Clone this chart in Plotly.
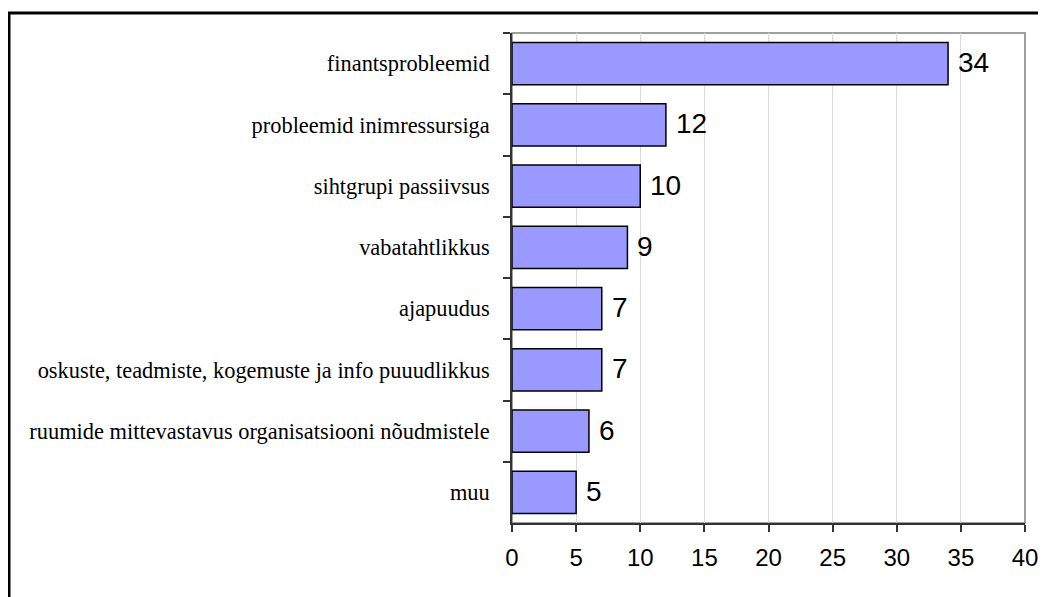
import plotly.graph_objects as go

# data
categories = [
    "finantsprobleemid",
    "probleemid inimressursiga",
    "sihtgrupi passiivsus",
    "vabatahtlikkus",
    "ajapuudus",
    "oskuste, teadmiste, kogemuste ja info puuudlikkus",
    "ruumide mittevastavus organisatsiooni nõudmistele",
    "muu",
]
values = [34, 12, 10, 9, 7, 7, 6, 5]
x_ticks = [0, 5, 10, 15, 20, 25, 30, 35, 40]

fig = go.Figure()

fig.add_trace(go.Bar(
    x=values, y=categories, orientation="h",
    marker=dict(color="#9999FF", line=dict(color="black", width=1.5)),
    hoverinfo="x+y", showlegend=False,
))

# value labels to the right of each bar
for cat, val in zip(categories, values):
    fig.add_annotation(
        x=val, y=cat, text=str(val), showarrow=False,
        xanchor="left", yanchor="middle", xshift=8, yshift=1,
        font=dict(family="Liberation Sans, Arial", size=28, color="black"),
    )

# plot area frame (grey top/right) and outer chart border
fig.add_shape(type="rect", xref="paper", yref="paper", x0=0, y0=0, x1=1, y1=1,
              line=dict(color="#808080", width=1.5), layer="below")
fig.add_shape(type="rect", xref="paper", yref="paper",
              x0=-0.9805, y0=-0.3, x1=1.2, y1=1.0408,
              line=dict(color="black", width=3))

# page body has an 8px margin, so the figure is offset by 8px in the window
fig.update_layout(
    width=1038, height=589,
    margin=dict(l=504, r=21, t=25, b=74),
    paper_bgcolor="white", plot_bgcolor="white",
    bargap=0.314,
    showlegend=False,
    xaxis=dict(
        range=[0, 40], tickvals=x_ticks, ticktext=[str(t) for t in x_ticks],
        showgrid=True, gridcolor="#d9d9d9", gridwidth=1,
        zeroline=False, showline=True, linecolor="#333333", linewidth=1.5,
        ticks="outside", ticklen=7, tickcolor="#333333", tickwidth=1.5,
        ticklabelstandoff=5, automargin=False,
        tickfont=dict(family="Liberation Sans, Arial", size=24, color="black"),
    ),
    yaxis=dict(
        autorange="reversed", type="category",
        showgrid=False, zeroline=False,
        showline=True, linecolor="#333333", linewidth=1.5,
        ticks="outside", ticklen=7, tickcolor="#333333", tickwidth=1.5,
        tickson="boundaries", ticklabelstandoff=16, automargin=False,
        tickfont=dict(family="Liberation Serif, Times New Roman", size=22.4, color="black"),
    ),
)

fig.write_html("out.html")
